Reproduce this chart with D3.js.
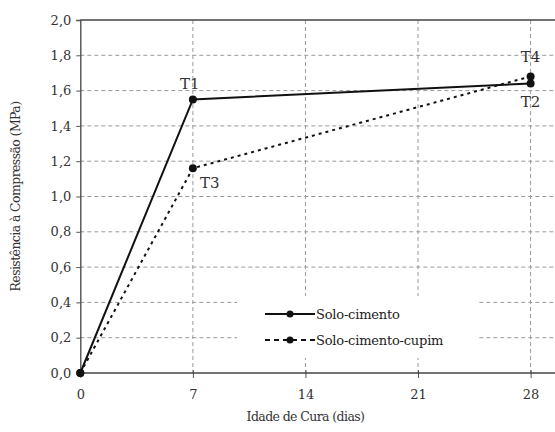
<!DOCTYPE html>
<html><head><meta charset="utf-8">
<script src="https://cdn.jsdelivr.net/npm/d3@7"></script>
<style>body{margin:0;background:#fff}svg{display:block}</style>
</head><body>
<svg id="c" width="555" height="432"></svg>
<script>
const days = [0, 7, 28];
const soloCimento = [0, 1.55, 1.64];
const soloCimentoCupim = [0, 1.16, 1.68];
const xTicks = [0, 7, 14, 21, 28];
const yTicks = [0, 0.2, 0.4, 0.6, 0.8, 1.0, 1.2, 1.4, 1.6, 1.8, 2.0];
const seriesNames = ["Solo-cimento", "Solo-cimento-cupim"];
const pointLabels = [["", "T1", "T2"], ["", "T3", "T4"]];

const FONT = "'DejaVu Serif', serif";
const svg = d3.select("#c");
const x = d3.scaleLinear().domain([0, 28]).range([80.3, 530.6]);
const y = d3.scaleLinear().domain([0, 2]).range([373, 20]);
const fmt = d => d.toFixed(1).replace(".", ",");

// grid
svg.append("g").selectAll("line").data(yTicks.filter(d => d > 0 && d < 2)).join("line")
  .attr("x1", x(0)).attr("x2", 555).attr("y1", d => y(d)).attr("y2", d => y(d))
  .attr("stroke", "#999").attr("stroke-width", 1).attr("stroke-dasharray", "4,3");
svg.append("g").selectAll("line").data(xTicks.filter(d => d > 0)).join("line")
  .attr("x1", d => x(d)).attr("x2", d => x(d)).attr("y1", y(2)).attr("y2", y(0))
  .attr("stroke", "#999").attr("stroke-width", 1).attr("stroke-dasharray", "4,3");

// top border
svg.append("line").attr("x1", x(0)).attr("x2", 555).attr("y1", y(2)).attr("y2", y(2))
  .attr("stroke", "#444").attr("stroke-width", 1.3);

// legend background
svg.append("rect").attr("x", 237).attr("y", 296).attr("width", 241).attr("height", 62).attr("fill", "#fff");

// axes
const xAxis = svg.append("g").attr("transform", `translate(0,${y(0)})`)
  .call(d3.axisBottom(x).tickValues(xTicks).tickSize(5).tickPadding(12).tickFormat(d3.format("d")));
xAxis.select(".domain").remove();
xAxis.append("line").attr("x1", x(0)).attr("x2", 555).attr("stroke", "#444").attr("stroke-width", 1.3);
xAxis.selectAll(".tick line").attr("y1", -3).attr("stroke", "#555");
const yAxis = svg.append("g").attr("transform", `translate(${x(0)},0)`)
  .call(d3.axisLeft(y).tickValues(yTicks).tickSize(4).tickPadding(5).tickFormat(fmt));
yAxis.select(".domain").attr("stroke", "#444").attr("stroke-width", 1.3);
yAxis.selectAll(".tick line").attr("stroke", "#555");
svg.selectAll(".tick text").style("font-size", "13px").style("font-family", FONT).style("fill", "#333");

// titles
svg.append("text").attr("x", x(14)).attr("y", 421).attr("text-anchor", "middle")
  .style("font-family", FONT).style("font-size", "12.5px").style("letter-spacing", "-0.6px").style("fill", "#333").text("Idade de Cura (dias)");
svg.append("text").attr("transform", `translate(20,${(y(0)+y(2))/2}) rotate(-90)`)
  .attr("text-anchor", "middle").style("font-family", FONT).style("font-size", "12.5px").style("letter-spacing", "-0.6px").style("fill", "#333")
  .text("Resistência à Compressão  (MPa)");

// series
const line = d3.line().x(d => x(d[0])).y(d => y(d[1]));
const series = [soloCimento, soloCimentoCupim];
const dashes = [null, "3,4"];
series.forEach((vals, i) => {
  const pts = days.map((d, j) => [d, vals[j]]);
  svg.append("path").datum(pts).attr("d", line).attr("fill", "none")
    .attr("stroke", "#111").attr("stroke-width", 2).attr("stroke-dasharray", dashes[i]);
  svg.append("g").selectAll("circle").data(pts).join("circle")
    .attr("cx", d => x(d[0])).attr("cy", d => y(d[1])).attr("r", 4).attr("fill", "#111");
});

// point labels
const labelOffsets = [[[0,0],[-3,-10],[0,23]],[[0,0],[17,20],[0,-14]]];
series.forEach((vals, i) => {
  days.forEach((d, j) => {
    const t = pointLabels[i][j];
    if (!t) return;
    svg.append("text").attr("x", x(d) + labelOffsets[i][j][0]).attr("y", y(vals[j]) + labelOffsets[i][j][1])
      .attr("text-anchor", "middle").style("font-family", FONT).style("font-size", "15px").style("fill", "#333").text(t);
  });
});

// legend
const legendDashes = [null, "5,4"];
seriesNames.forEach((name, i) => {
  const ly = 314 + i * 26;
  svg.append("line").attr("x1", 265).attr("x2", 315).attr("y1", ly).attr("y2", ly)
    .attr("stroke", "#111").attr("stroke-width", 2).attr("stroke-dasharray", legendDashes[i]);
  svg.append("circle").attr("cx", 290).attr("cy", ly).attr("r", 3.5).attr("fill", "#111");
  svg.append("text").attr("x", 316).attr("y", ly + 5).style("font-family", FONT).style("font-size", "13px")
    .style("letter-spacing", "-0.2px").style("fill", "#222").text(name);
});
</script>
</body></html>
